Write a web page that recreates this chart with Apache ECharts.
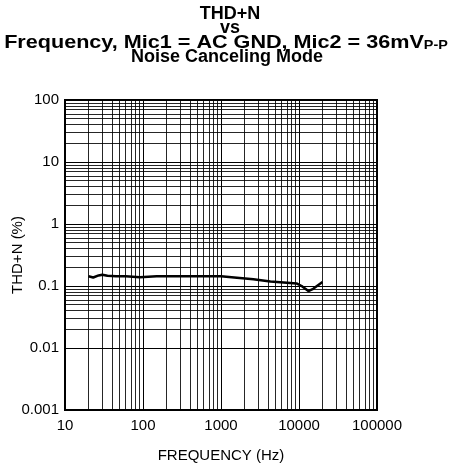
<!DOCTYPE html>
<html>
<head>
<meta charset="utf-8">
<script src="https://cdn.jsdelivr.net/npm/echarts@6/dist/echarts.min.js"></script>
<style>
  html, body { margin: 0; padding: 0; background: #fff; }
  #chart { width: 454px; height: 466px; }
</style>
</head>
<body>
<div id="chart"></div>
<script>
// 频率 (Hz)
var freq = [20, 23, 27, 30, 35, 45, 60, 91, 150, 300, 600, 1000, 1600, 2600, 4300, 7000, 9300, 10800, 13200, 15200, 20000];
// THD+N (%)
var thdn = [0.144, 0.137, 0.148, 0.152, 0.146, 0.144, 0.144, 0.139, 0.144, 0.144, 0.143, 0.143, 0.136, 0.128, 0.118, 0.113, 0.110, 0.100, 0.083, 0.090, 0.116];

// 坐标轴刻度
var xTicks = ["10", "100", "1000", "10000", "100000"];
var yTicks = ["0.001", "0.01", "0.1", "1", "10", "100"];

var FONT = "Liberation Sans, Arial, sans-serif";
var TITLE_FONT = "bold 18px " + FONT;

// 对数网格的次刻度线 (2..9 x 每个十倍频程)
function minorValues(lo, hi) {
  var out = [];
  for (var d = lo; d < hi; d *= 10) {
    for (var k = 2; k <= 9; k++) out.push(+(d * k).toPrecision(3));
  }
  return out;
}
var minorLines = [];
minorValues(10, 100000).forEach(function (v) { minorLines.push({ xAxis: v }); });
minorValues(0.001, 100).forEach(function (v) { minorLines.push({ yAxis: v }); });

var chart = echarts.init(document.getElementById("chart"), null, { renderer: "canvas" });

function titleLine(text, x, y, scaleX) {
  return {
    type: "text",
    x: x,
    y: y,
    scaleX: scaleX || 1,
    silent: true,
    style: {
      text: text,
      font: TITLE_FONT,
      fill: "#000",
      align: "center",
      verticalAlign: "middle",
      rich: {
        sub: {
          font: "bold 12px " + FONT,
          fill: "#000",
          lineHeight: 6,
          verticalAlign: "bottom"
        }
      }
    }
  };
}

var option = {
  backgroundColor: "#fff",
  animation: false,
  grid: {
    left: 65,
    top: 100,
    width: 312,
    height: 310,
    containLabel: false,
    outerBoundsMode: "none"
  },
  xAxis: {
    type: "log",
    logBase: 10,
    min: 10,
    max: 100000,
    name: "FREQUENCY (Hz)",
    nameLocation: "middle",
    nameGap: 38,
    nameMoveOverlap: false,
    nameTextStyle: { fontFamily: FONT, fontSize: 15, color: "#000" },
    axisLine: { show: true, lineStyle: { color: "#000", width: 2 } },
    axisTick: { show: false },
    axisLabel: {
      fontFamily: FONT,
      fontSize: 15,
      color: "#000",
      margin: 8,
      formatter: function (v) {
        var i = Math.round(Math.log10(v)) - 1;
        return xTicks[i] || "";
      }
    },
    splitLine: { show: true, lineStyle: { color: "#000", width: 1 } }
  },
  yAxis: {
    type: "log",
    logBase: 10,
    min: 0.001,
    max: 100,
    name: "THD+N (%)",
    nameLocation: "middle",
    nameGap: 40,
    nameMoveOverlap: false,
    nameRotate: 90,
    nameTextStyle: { fontFamily: FONT, fontSize: 15, color: "#000" },
    axisLine: { show: true, lineStyle: { color: "#000", width: 2 } },
    axisTick: { show: false },
    axisLabel: {
      fontFamily: FONT,
      fontSize: 15,
      color: "#000",
      margin: 6,
      formatter: function (v) {
        var i = Math.round(Math.log10(v)) + 3;
        return yTicks[i] || "";
      }
    },
    splitLine: { show: true, lineStyle: { color: "#000", width: 1 } }
  },
  series: [
    {
      name: "THD+N",
      type: "line",
      data: freq.map(function (f, i) { return [f, thdn[i]]; }),
      symbol: "none",
      smooth: false,
      lineStyle: { color: "#000", width: 2.5 },
      markLine: {
        silent: true,
        symbol: "none",
        animation: false,
        label: { show: false },
        lineStyle: { color: "#000", width: 1, type: "solid", opacity: 0.85 },
        data: minorLines
      },
      z: 5
    }
  ],
  graphic: [
    titleLine("THD+N", 230, 14),
    titleLine("vs", 230, 28.5),
    titleLine("Frequency, Mic1 = AC GND, Mic2 = 36mV{sub|P-P}", 226, 43, 1.2),
    titleLine("Noise Canceling Mode", 227, 57.5),
    {
      type: "rect",
      shape: { x: 65, y: 100, width: 312, height: 310 },
      style: { fill: "none", stroke: "#000", lineWidth: 2 },
      silent: true,
      z: 10
    }
  ]
};

chart.setOption(option);
</script>
</body>
</html>
